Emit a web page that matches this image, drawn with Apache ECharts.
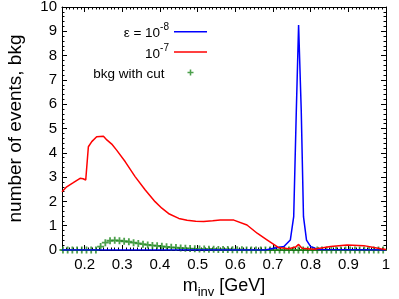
<!DOCTYPE html>
<html>
<head>
<meta charset="utf-8">
<script src="https://cdn.jsdelivr.net/npm/echarts@6/dist/echarts.min.js"></script>
<style>html,body{margin:0;padding:0;background:#fff}#c{width:399px;height:299px}</style>
</head>
<body>
<div id="c"></div>
<script>
// ---- data ----
const blueX = [0.14, 0.68, 0.702, 0.729, 0.746, 0.755, 0.762, 0.768, 0.775, 0.781, 0.789, 0.8, 0.82, 1.0];
const blueY = [0, 0, 0.07, 0.14, 0.41, 1.37, 5.76, 9.26, 5.76, 1.37, 0.41, 0.14, 0.02, 0];

const redX = [0.14, 0.1525, 0.17, 0.188, 0.196, 0.203, 0.21, 0.219, 0.232, 0.25, 0.259, 0.272, 0.285, 0.308, 0.334, 0.361, 0.387, 0.405, 0.425, 0.45, 0.472, 0.495, 0.516, 0.54, 0.56, 0.596, 0.631, 0.658, 0.684, 0.715, 0.742, 0.76, 0.768, 0.777, 0.808, 0.853, 0.897, 0.941, 0.986, 1.0];
const redY = [2.4, 2.6, 2.77, 2.95, 2.93, 2.88, 4.25, 4.46, 4.66, 4.68, 4.53, 4.36, 4.11, 3.63, 3.02, 2.47, 1.99, 1.72, 1.48, 1.30, 1.22, 1.18, 1.17, 1.2, 1.23, 1.23, 1.03, 0.69, 0.42, 0.1, 0.05, 0.12, 0.23, 0.07, 0.03, 0.14, 0.21, 0.18, 0.05, 0.02];

const bkgX = [0.1425, 0.155, 0.1675, 0.18, 0.1925, 0.205, 0.2175, 0.23, 0.2425, 0.255, 0.2675, 0.28, 0.2925, 0.305, 0.3175, 0.33, 0.3425, 0.355, 0.3675, 0.38, 0.3925, 0.405, 0.4175, 0.43, 0.4425, 0.455, 0.4675, 0.48, 0.4925, 0.505, 0.5175, 0.53, 0.5425, 0.555, 0.5675, 0.58, 0.5925, 0.605, 0.6175, 0.63, 0.6425, 0.655, 0.6675, 0.68, 0.6925, 0.705, 0.7175, 0.73, 0.7425, 0.755, 0.7675, 0.78, 0.7925, 0.805, 0.8175, 0.83, 0.8425, 0.855, 0.8675, 0.88, 0.8925, 0.905, 0.9175, 0.93, 0.9425, 0.955, 0.9675, 0.98, 0.9925];
const bkgY = [0, 0, 0, 0, 0, 0, 0, 0, 0.14, 0.3, 0.38, 0.4, 0.38, 0.36, 0.34, 0.3, 0.27, 0.24, 0.21, 0.19, 0.17, 0.15, 0.13, 0.11, 0.1, 0.08, 0.07, 0.06, 0.05, 0.04, 0.04, 0.03, 0.03, 0.02, 0.02, 0.02, 0.01, 0.01, 0.01, 0, 0, 0, 0, 0, 0, 0, 0, 0, 0, 0, 0, 0, 0, 0, 0, 0, 0, 0, 0, 0, 0, 0, 0, 0, 0, 0, 0, 0, 0];

const xTickValues = [0.2, 0.3, 0.4, 0.5, 0.6, 0.7, 0.8, 0.9, 1.0];
const xTickLabels = ['0.2', '0.3', '0.4', '0.5', '0.6', '0.7', '0.8', '0.9', '1'];
const seriesNames = ['ε = 10^-8', '10^-7', 'bkg with cut'];

// minor tick positions (every 0.01)
const xMinorValues = [];
for (let i = 15; i <= 100; i++) { if (i % 10 !== 0) xMinorValues.push(i / 100); }

const zip = (xs, ys) => xs.map((x, i) => [x, ys[i]]);
const FONT = 'Liberation Sans, Arial, Helvetica, sans-serif';
const plusPath = 'path://M2.6,0H4.4V2.6H7V4.4H4.4V7H2.6V4.4H0V2.6H2.6Z';
const GREEN = '#1f881f';

function xAxisDef(pos, major) {
  return {
    type: 'value', min: 0.14, max: 1, position: pos,
    axisLine: { show: major, onZero: false, lineStyle: { color: '#000', width: 1 } },
    axisTick: { show: true, inside: true, length: major ? 5 : 2.5, customValues: major ? xTickValues : xMinorValues, lineStyle: { color: '#000', width: 1 } },
    axisLabel: (pos === 'bottom' && major) ? {
      show: true, customValues: xTickValues, margin: 7, fontSize: 15, color: '#000', fontFamily: FONT,
      formatter: v => { const i = xTickValues.findIndex(t => Math.abs(t - v) < 1e-6); return i >= 0 ? xTickLabels[i] : ''; }
    } : { show: false },
    splitLine: { show: false },
    name: (pos === 'bottom' && major) ? '{a|m}{b|inv}{a| [GeV]}' : '',
    nameLocation: 'middle', nameGap: 22,
    nameTextStyle: {
      fontFamily: FONT, color: '#000',
      rich: {
        a: { fontSize: 18, fontFamily: FONT, color: '#000', lineHeight: 22, verticalAlign: 'top' },
        b: { fontSize: 13, fontFamily: FONT, color: '#000', lineHeight: 5, verticalAlign: 'bottom' }
      }
    }
  };
}
function yAxisDef(pos) {
  const left = pos === 'left';
  return {
    type: 'value', min: 0, max: 10, interval: 1, position: pos,
    axisLine: { show: true, onZero: false, lineStyle: { color: '#000', width: 1 } },
    axisTick: { show: true, inside: true, length: 5, lineStyle: { color: '#000', width: 1 } },
    minorTick: { show: true, splitNumber: 5, length: 2.5, lineStyle: { color: '#000', width: 1 } },
    axisLabel: left ? { show: true, margin: 5, fontSize: 15, color: '#000', fontFamily: FONT } : { show: false },
    splitLine: { show: false }, minorSplitLine: { show: false },
    name: left ? 'number of events, bkg' : '',
    nameLocation: 'middle', nameGap: 37,
    nameTextStyle: { fontSize: 19, fontFamily: FONT, color: '#000' }
  };
}

function legendDef(name, top, right, extra, padRight) {
  return Object.assign({
    data: [name], orient: 'vertical', top: top, right: right, padding: 0, align: 'right',
    itemWidth: 33, itemHeight: 1.6, icon: 'rect', selectedMode: false,
    textStyle: { fontSize: 13.5, fontFamily: FONT, color: '#000', lineHeight: 18,
      rich: {
        t: { fontSize: 13.5, fontFamily: FONT, color: '#000', lineHeight: 18, verticalAlign: 'bottom', padding: [0, padRight || 0, 0, 0] },
        s: { fontSize: 10, fontFamily: FONT, color: '#000', lineHeight: 6, verticalAlign: 'top' }
      } },
    formatter: n => {
      const k = n.indexOf('^');
      if (k < 0) return '{t|' + n + '}';
      return '{t|' + n.slice(0, k) + '}{s|' + n.slice(k + 1) + '}';
    }
  }, extra || {});
}

const chart = echarts.init(document.getElementById('c'), null, { renderer: 'canvas' });
chart.setOption({
  animation: false,
  backgroundColor: '#fff',
  grid: { left: 62, right: 13, top: 7, bottom: 49, containLabel: false, outerBoundsMode: 'none' },
  xAxis: [xAxisDef('bottom', true), xAxisDef('bottom', false), xAxisDef('top', true), xAxisDef('top', false)],
  yAxis: [yAxisDef('left'), yAxisDef('right')],
  legend: [
    legendDef(seriesNames[0], 22.7, 192),
    legendDef(seriesNames[1], 43, 192),
    legendDef(seriesNames[2], 63.5, 205.5, { icon: plusPath, itemHeight: 6, itemStyle: { color: GREEN } }, 4.5)
  ],
  series: [
    { name: seriesNames[0], type: 'line', xAxisIndex: 0, yAxisIndex: 0, data: zip(blueX, blueY), symbol: 'none', color: '#0000ff', lineStyle: { color: '#0000ff', width: 1.5 } },
    { name: seriesNames[1], type: 'line', xAxisIndex: 0, yAxisIndex: 0, data: zip(redX, redY), symbol: 'none', color: '#ff0000', lineStyle: { color: '#ff0000', width: 1.5 } },
    { name: seriesNames[2], type: 'scatter', xAxisIndex: 0, yAxisIndex: 0, data: zip(bkgX, bkgY), symbol: plusPath, symbolSize: 7, color: GREEN, itemStyle: { color: GREEN } }
  ]
});
</script>
</body>
</html>
